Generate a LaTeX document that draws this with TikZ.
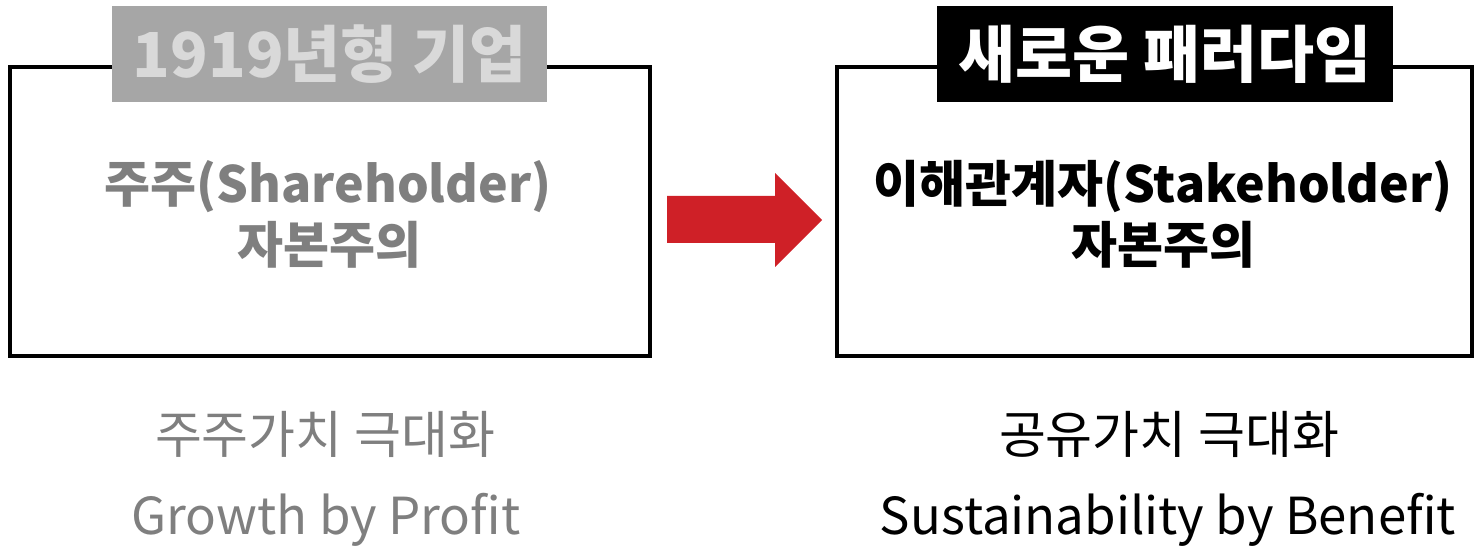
\documentclass[tikz,border=0pt]{standalone}
\usepackage{fontspec}
\usepackage{xcolor}
\usepackage{tikz}
\usetikzlibrary{positioning,calc}
\newfontfamily\kr{Noto Sans CJK KR}
\definecolor{oldgrey}{HTML}{7F7F7F}
\definecolor{tagfill}{HTML}{A6A6A6}
\definecolor{tagtext}{HTML}{D9D9D9}
\definecolor{arrowred}{HTML}{CF2027}
\newcommand{\titlesize}{\fontsize{31}{36}\selectfont}
\newcommand{\bodysize}{\fontsize{25}{29}\selectfont}
\newcommand{\notesize}{\fontsize{25.5}{30}\selectfont}

\begin{document}
\begin{tikzpicture}[x=0.5pt, y=-0.5pt,
    frame/.style={draw, line width=2pt, minimum width=320pt, minimum height=144.5pt, inner sep=0pt},
    tag/.style={inner sep=0pt, minimum height=48pt, font=\kr\bfseries\titlesize},
    body/.style={font=\kr\bfseries\bodysize, inner sep=0pt},
    note/.style={font=\kr\notesize, inner sep=0pt}]
    \useasboundingbox (0,0) rectangle (1474,549);

    % 1919 corporation
    \node[frame] (oldbox) at (330,211.5) {};
    \node[tag, fill=tagfill, text=tagtext, minimum width=217.5pt] (oldtag) at (329.5,54) {1919년형 기업};
    \node[body, text=oldgrey] (oldmain) at (328,187) {주주(Shareholder)};
    \node[body, text=oldgrey] (oldsub) at (329,245) {자본주의};
    \node[note, text=oldgrey] (oldgoal) at (325,434) {주주가치 극대화};
    \node[note, text=oldgrey] (oldmotto) at (326,520) {Growth by Profit};

    % new paradigm
    \node[frame, minimum width=317.5pt] (newbox) at (1154.5,211.5) {};
    \node[tag, fill=black, text=white, minimum width=228pt] (newtag) at (1165,54) {새로운 패러다임};
    \node[body] (newmain) at (1163,187) {이해관계자(Stakeholder)};
    \node[body] (newsub) at (1163,245) {자본주의};
    \node[note] (newgoal) at (1169,434) {공유가치 극대화};
    \node[note] (newmotto) at (1168,520) {Sustainability by Benefit};

    % arrow
    \fill[arrowred] (667,196) -- (775,196) -- (775,173) -- (822,220)
        -- (775,267) -- (775,243) -- (667,243) -- cycle;
\end{tikzpicture}
\end{document}
